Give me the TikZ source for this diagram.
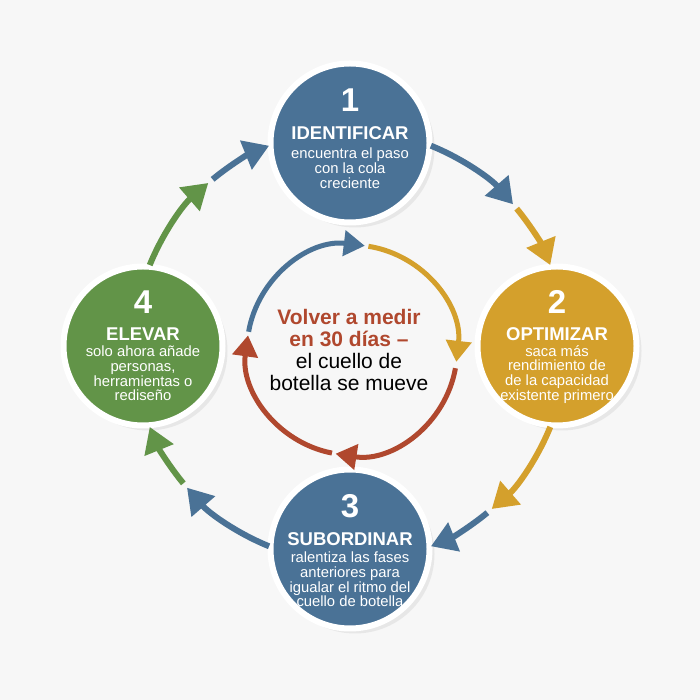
\documentclass[tikz,border=0pt]{standalone}
\usepackage{fontspec}
\setmainfont{Liberation Sans}
\usetikzlibrary{arrows.meta, shadows}

\definecolor{cblue}{RGB}{74,114,150}
\definecolor{cyellow}{RGB}{212,160,44}
\definecolor{cgreen}{RGB}{98,148,72}
\definecolor{cred}{RGB}{176,72,46}
\definecolor{bgcol}{RGB}{247,247,247}

\tikzset{
  stage/.style={circle, minimum size=159pt, draw=white, line width=6pt,
    drop shadow={opacity=0.13, shadow xshift=5pt, shadow yshift=-5pt}},
  numtxt/.style={anchor=base, text=white, inner sep=0pt, font=\fontsize{33}{33}\selectfont\bfseries},
  titletxt/.style={anchor=base, text=white, inner sep=0pt, font=\fontsize{18.5}{18.5}\selectfont\bfseries},
  bodytxt/.style={anchor=north, text=white, align=center, inner sep=0pt, font=\fontsize{14.8}{14.8}\selectfont},
  outarrow/.style={line width=6pt, -{Triangle[length=25pt, width=30pt]}},
  inarrow/.style={line width=5pt, -{Triangle[length=21pt, width=25pt]}}
}

\begin{document}
\begin{tikzpicture}[x=1pt, y=1pt]

    \fill[bgcol] (0,0) rectangle (700,700);
    \useasboundingbox (0,0) rectangle (700,700);

    \coordinate (oc) at (350,354);
    \coordinate (ic) at (352,350);

    % the four steps
    \node (identificar) [stage, fill=cblue] at (350,557) {};
    \node (num1) [numtxt] at ([yshift=31]identificar.center) {1};
    \node (tit1) [titletxt] at ([yshift=3]identificar.center) {IDENTIFICAR};
    \node (txt1) [bodytxt] at ([yshift=-4.5]identificar.center) {encuentra el paso\\con la cola\\creciente};

    \node (optimizar) [stage, fill=cyellow] at (557,354) {};
    \node (num2) [numtxt] at ([yshift=32]optimizar.center) {2};
    \node (tit2) [titletxt] at ([yshift=5]optimizar.center) {OPTIMIZAR};
    \node (txt2) [bodytxt] at ([yshift=1]optimizar.center) {saca más\\rendimiento de\\de la capacidad\\existente primero};

    \node (subordinar) [stage, fill=cblue] at (350,151) {};
    \node (num3) [numtxt] at ([yshift=31]subordinar.center) {3};
    \node (tit3) [titletxt] at ([yshift=3]subordinar.center) {SUBORDINAR};
    \node (txt3) [bodytxt] at ([yshift=-2.5]subordinar.center) {ralentiza las fases\\anteriores para\\igualar el ritmo del\\cuello de botella};

    \node (elevar) [stage, fill=cgreen] at (143,354) {};
    \node (num4) [numtxt] at ([yshift=32]elevar.center) {4};
    \node (tit4) [titletxt] at ([yshift=5]elevar.center) {ELEVAR};
    \node (txt4) [bodytxt] at ([yshift=0.5]elevar.center) {solo ahora añade\\personas,\\herramientas o\\rediseño};

    % outer cycle, two colours between each pair of steps
    \foreach \a/\ca/\cb in {90/cblue/cyellow, 0/cyellow/cblue, -90/cblue/cgreen, 180/cgreen/cblue} {
        \draw [outarrow, \ca] ([shift={({\a-22}:216pt)}]oc) arc[start angle=\a-22, end angle=\a-49, radius=216pt];
        \draw [outarrow, \cb] ([shift={({\a-50.5}:216pt)}]oc) arc[start angle=\a-50.5, end angle=\a-68, radius=216pt];
    }

    % inner cycle
    \foreach \s/\e/\c in {170/83/cblue, 81/-6.5/cyellow, -10/-99/cred, -101/-188/cred} {
        \draw [inarrow, \c] ([shift={(\s:105pt)}]ic) arc[start angle=\s, end angle=\e, radius=105pt];
    }

    \node (remedir) [anchor=north, align=center, inner sep=0pt, font=\fontsize{21}{22}\selectfont]
        at (349,391) {{\color{cred}\bfseries Volver a medir}\\{\color{cred}\bfseries en 30 días –}\\el cuello de\\botella se mueve};

\end{tikzpicture}
\end{document}
